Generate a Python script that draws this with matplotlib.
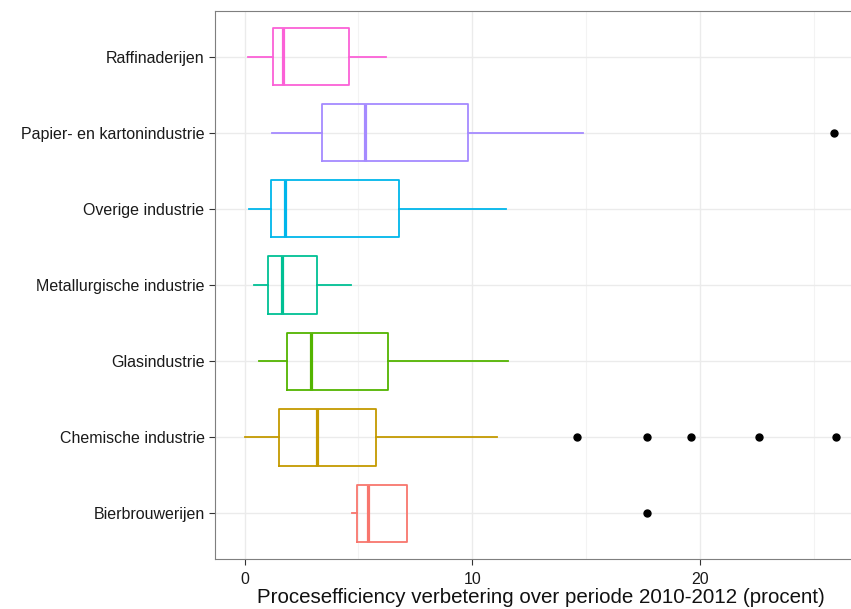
import matplotlib
matplotlib.use("Agg")
import matplotlib.pyplot as plt

plt.rcParams['font.family'] = ['Liberation Sans', 'DejaVu Sans']

categories = ['Bierbrouwerijen', 'Chemische industrie', 'Glasindustrie',
              'Metallurgische industrie', 'Overige industrie',
              'Papier- en kartonindustrie', 'Raffinaderijen']
colors = ['#F8766D', '#C49A00', '#53B400', '#00C094', '#00B6EB', '#A58AFF', '#FB61D7']

whislo = [4.72, 0.0, 0.62, 0.40, 0.20, 1.20, 0.17]
q1 = [4.96, 1.51, 1.85, 1.03, 1.17, 3.40, 1.24]
med = [5.40, 3.16, 2.90, 1.64, 1.78, 5.30, 1.70]
q3 = [7.15, 5.76, 6.29, 3.20, 6.80, 9.80, 4.60]
whishi = [7.15, 11.08, 11.56, 4.69, 11.50, 14.85, 6.20]
fliers = [[17.7], [14.6, 17.7, 19.6, 22.6, 26.0], [], [], [], [25.9], []]

fig = plt.figure(figsize=(8.51, 6.09), dpi=100)
ax = fig.add_axes([215 / 851, 1 - 559 / 609, 651 / 851, 548 / 609])

for i, cat in enumerate(categories):
    st = dict(whislo=whislo[i], q1=q1[i], med=med[i], q3=q3[i],
              whishi=whishi[i], fliers=fliers[i], label=cat)
    c = colors[i]
    ax.bxp([st], positions=[i + 1], widths=0.75, vert=False, showcaps=False,
           boxprops=dict(color=c, linewidth=1.3),
           whiskerprops=dict(color=c, linewidth=1.3),
           medianprops=dict(color=c, linewidth=2.3),
           flierprops=dict(marker='o', markerfacecolor='black',
                           markeredgecolor='black', markersize=5))

ax.set_xlim(-1.3, 27.3)
ax.set_ylim(0.4, 7.6)
ax.set_yticks(range(1, 8))
ax.set_yticklabels(categories)
ax.set_xticks([0, 10, 20])
ax.set_xticks([5, 15, 25], minor=True)
ax.grid(True, which='major', color='#EBEBEB', linewidth=1.0)
ax.grid(True, which='minor', axis='x', color='#F3F3F3', linewidth=0.8)
ax.set_axisbelow(True)
ax.tick_params(axis='both', which='major', length=4, color='#333333',
               labelsize=11.5, labelcolor='#1a1a1a')
ax.tick_params(axis='x', which='major', pad=5)
ax.tick_params(axis='x', which='minor', length=0)
for sp in ax.spines.values():
    sp.set_color('#7F7F7F')
    sp.set_linewidth(0.8)
ax.set_xlabel('Procesefficiency verbetering over periode 2010-2012 (procent)',
              fontsize=14.8, labelpad=1, color='#111111')

fig.savefig('out.png', dpi=100)
